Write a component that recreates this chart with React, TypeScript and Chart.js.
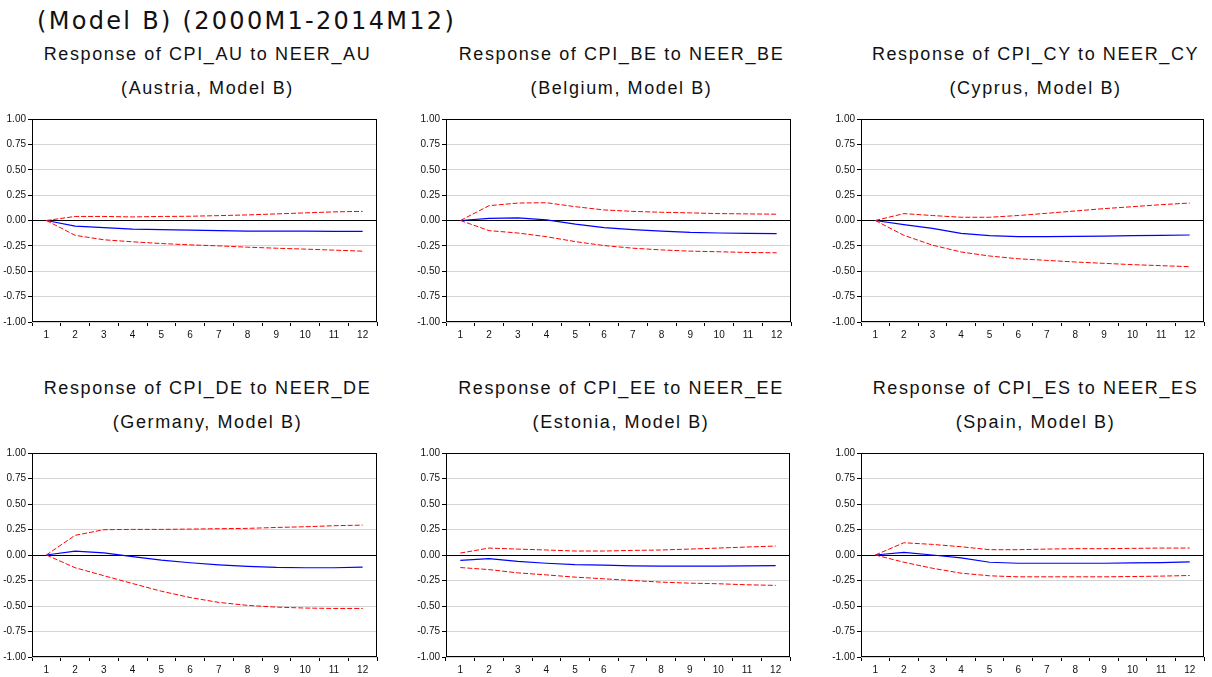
import React, { useEffect, useRef } from "react";
import { Chart, registerables } from "chart.js";

Chart.register(...registerables);

const horizons = ["1", "2", "3", "4", "5", "6", "7", "8", "9", "10", "11", "12"];

const mainTitle = "(Model B) (2000M1-2014M12)";

// Austria
const auResponse = [0, -0.055, -0.07, -0.085, -0.09, -0.095, -0.1, -0.105, -0.105, -0.105, -0.108, -0.108];
const auUpper = [0, 0.04, 0.04, 0.035, 0.04, 0.042, 0.048, 0.055, 0.065, 0.075, 0.085, 0.09];
const auLower = [0, -0.146, -0.19, -0.21, -0.227, -0.24, -0.25, -0.263, -0.273, -0.282, -0.292, -0.302];

// Belgium
const beResponse = [0, 0.02, 0.026, 0.006, -0.036, -0.07, -0.09, -0.104, -0.117, -0.123, -0.127, -0.13];
const beUpper = [0, 0.146, 0.172, 0.175, 0.136, 0.104, 0.09, 0.081, 0.075, 0.068, 0.065, 0.062];
const beLower = [0, -0.1, -0.123, -0.16, -0.208, -0.247, -0.273, -0.29, -0.302, -0.308, -0.315, -0.318];

// Cyprus
const cyResponse = [0, -0.04, -0.078, -0.127, -0.149, -0.159, -0.159, -0.156, -0.153, -0.149, -0.146, -0.143];
const cyUpper = [0, 0.068, 0.049, 0.032, 0.032, 0.049, 0.071, 0.094, 0.117, 0.136, 0.156, 0.172];
const cyLower = [0, -0.146, -0.243, -0.31, -0.35, -0.377, -0.393, -0.409, -0.422, -0.435, -0.445, -0.455];

// Germany
const deResponse = [0, 0.037, 0.021, -0.015, -0.05, -0.076, -0.096, -0.112, -0.122, -0.125, -0.125, -0.118];
const deUpper = [0, 0.193, 0.248, 0.251, 0.251, 0.254, 0.258, 0.261, 0.27, 0.277, 0.287, 0.293];
const deLower = [0, -0.125, -0.203, -0.28, -0.355, -0.417, -0.465, -0.494, -0.511, -0.52, -0.524, -0.524];

// Estonia
const eeResponse = [-0.052, -0.036, -0.062, -0.081, -0.094, -0.1, -0.107, -0.11, -0.11, -0.11, -0.107, -0.104];
const eeUpper = [0.019, 0.068, 0.058, 0.049, 0.039, 0.039, 0.045, 0.049, 0.058, 0.068, 0.078, 0.088];
const eeLower = [-0.123, -0.143, -0.175, -0.195, -0.217, -0.233, -0.25, -0.266, -0.276, -0.282, -0.292, -0.298];

// Spain
const esResponse = [0, 0.026, 0, -0.029, -0.071, -0.081, -0.081, -0.081, -0.081, -0.078, -0.075, -0.068];
const esUpper = [0, 0.12, 0.104, 0.081, 0.052, 0.052, 0.058, 0.062, 0.062, 0.065, 0.068, 0.068];
const esLower = [0, -0.071, -0.13, -0.178, -0.204, -0.214, -0.214, -0.214, -0.214, -0.211, -0.207, -0.201];

const titles = [
  "Response of CPI_AU to NEER_AU",
  "Response of CPI_BE to NEER_BE",
  "Response of CPI_CY to NEER_CY",
  "Response of CPI_DE to NEER_DE",
  "Response of CPI_EE to NEER_EE",
  "Response of CPI_ES to NEER_ES",
];
const subtitles = [
  "(Austria, Model B)",
  "(Belgium, Model B)",
  "(Cyprus, Model B)",
  "(Germany, Model B)",
  "(Estonia, Model B)",
  "(Spain, Model B)",
];

const panels = [
  { title: titles[0], subtitle: subtitles[0], response: auResponse, upper: auUpper, lower: auLower, L: 32, T: 117, R: 377, B: 322 },
  { title: titles[1], subtitle: subtitles[1], response: beResponse, upper: beUpper, lower: beLower, L: 446, T: 117, R: 791, B: 322 },
  { title: titles[2], subtitle: subtitles[2], response: cyResponse, upper: cyUpper, lower: cyLower, L: 861, T: 117, R: 1204, B: 322 },
  { title: titles[3], subtitle: subtitles[3], response: deResponse, upper: deUpper, lower: deLower, L: 32, T: 451, R: 377, B: 657 },
  { title: titles[4], subtitle: subtitles[4], response: eeResponse, upper: eeUpper, lower: eeLower, L: 446, T: 451, R: 790, B: 657 },
  { title: titles[5], subtitle: subtitles[5], response: esResponse, upper: esUpper, lower: esLower, L: 861, T: 451, R: 1204, B: 657 },
];

const AXW = 34;
const PADT = 6;
const PADR = 8;
const AXH = 22;

const borderPlugin = {
  id: "boxBorder",
  afterDraw(chart: any) {
    const { ctx, chartArea } = chart;
    ctx.save();
    ctx.strokeStyle = "#000";
    ctx.lineWidth = 1;
    ctx.strokeRect(
      Math.round(chartArea.left) + 0.5,
      Math.round(chartArea.top) + 0.5,
      Math.round(chartArea.right - chartArea.left) - 1,
      Math.round(chartArea.bottom - chartArea.top) - 1
    );
    ctx.restore();
  },
};

function Panel(props: any) {
  const { response, upper, lower, L, T, R, B } = props;
  const ref = useRef<HTMLCanvasElement | null>(null);
  useEffect(() => {
    if (!ref.current) return;
    const tickFont = { family: "'Liberation Sans', Arial, sans-serif", size: 10 };
    const chart = new Chart(ref.current, {
      type: "line",
      data: {
        labels: horizons,
        datasets: [
          {
            data: upper,
            borderColor: "#ff0000",
            borderWidth: 1,
            borderDash: [5, 2],
            pointRadius: 0,
            tension: 0,
            fill: false,
          },
          {
            data: lower,
            borderColor: "#ff0000",
            borderWidth: 1,
            borderDash: [5, 2],
            pointRadius: 0,
            tension: 0,
            fill: false,
          },
          {
            data: response,
            borderColor: "#0000ff",
            borderWidth: 1.2,
            pointRadius: 0,
            tension: 0,
            fill: false,
          },
        ],
      },
      options: {
        animation: false,
        responsive: true,
        maintainAspectRatio: false,
        layout: { padding: { top: PADT, right: PADR, left: 0, bottom: 0 } },
        plugins: { legend: { display: false }, tooltip: { enabled: false }, title: { display: false } },
        scales: {
          x: {
            type: "category",
            offset: true,
            border: { display: false },
            grid: {
              offset: true,
              drawOnChartArea: false,
              drawTicks: true,
              tickLength: 4,
              color: "#000",
              tickColor: "#000",
            },
            ticks: { color: "#111", font: tickFont, padding: 3, maxRotation: 0, autoSkip: false },
            afterFit: (scale: any) => {
              scale.height = AXH;
            },
          },
          y: {
            min: -1,
            max: 1,
            border: { display: false },
            grid: {
              drawTicks: true,
              tickLength: 4,
              tickColor: "#000",
              color: (c: any) => (c.tick && c.tick.value === 0 ? "#000" : "#d4d4d4"),
              lineWidth: 1,
            },
            ticks: {
              stepSize: 0.25,
              color: "#111",
              font: tickFont,
              padding: 2,
              callback: (v: any) => Number(v).toFixed(2),
            },
            afterFit: (scale: any) => {
              scale.width = AXW;
            },
          },
        },
      },
      plugins: [borderPlugin],
    } as any);
    return () => chart.destroy();
  }, []);
  const w = R - L + AXW + PADR;
  const h = B - T + PADT + AXH;
  return (
    <div style={{ position: "absolute", left: L - AXW, top: T - PADT, width: w, height: h }}>
      <canvas ref={ref} />
    </div>
  );
}

const subStyle: any = {
  position: "absolute",
  fontFamily: "'Liberation Sans', Arial, sans-serif",
  fontSize: 18,
  letterSpacing: "1.6px",
  color: "#111",
  textAlign: "center",
  whiteSpace: "nowrap",
  lineHeight: "20px",
};

export default function App() {
  return (
    <div style={{ position: "absolute", left: 0, top: 0, width: 1212, height: 677, background: "#fff", overflow: "hidden" }}>
      <div
        style={{
          position: "absolute",
          left: 37,
          top: 7,
          fontFamily: "'DejaVu Sans', sans-serif",
          fontSize: 24,
          letterSpacing: "2.3px",
          color: "#111",
          whiteSpace: "nowrap",
          lineHeight: "28px",
        }}
      >
        {mainTitle}
      </div>
      {panels.map((p, i) => {
        const cx = (p.L + p.R) / 2 + 3;
        return (
          <React.Fragment key={i}>
            <div style={{ ...subStyle, left: cx - 200, width: 400, top: p.T - 73 }}>{p.title}</div>
            <div style={{ ...subStyle, left: cx - 200, width: 400, top: p.T - 39 }}>{p.subtitle}</div>
            <Panel {...p} />
          </React.Fragment>
        );
      })}
    </div>
  );
}
